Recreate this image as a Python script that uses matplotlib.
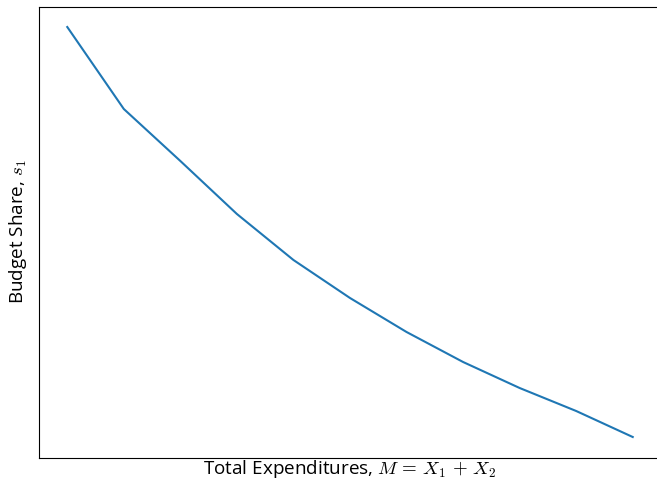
import matplotlib
matplotlib.use("Agg")
import matplotlib.pyplot as plt

# Data (no tick labels shown, arbitrary units)
M = [1, 2, 3, 4, 5, 6, 7, 8, 9, 10, 11]
s1 = [0.946, 0.782, 0.678, 0.572, 0.480, 0.404, 0.336, 0.276, 0.224, 0.178, 0.126]

plt.rcParams['mathtext.fontset'] = 'cm'
plt.rcParams['font.family'] = ['Open Sans', 'DejaVu Sans']

fig = plt.figure(figsize=(6.57, 4.78), dpi=100)
ax = fig.add_axes([39/657, 20.5/478, (661-39)/657, (457.5-6.5)/478])
ax.plot(M, s1, color='#1f77b4', lw=1.5)
ax.set_xticks([])
ax.set_yticks([])
ax.set_xlabel(r'Total Expenditures, $M\,=\,X_1\,+\,X_2$', fontsize=13.6, labelpad=0)
ax.set_ylabel(r'Budget Share, $s_1$', fontsize=13.6, labelpad=7)
fig.savefig('out.png', dpi=100)
